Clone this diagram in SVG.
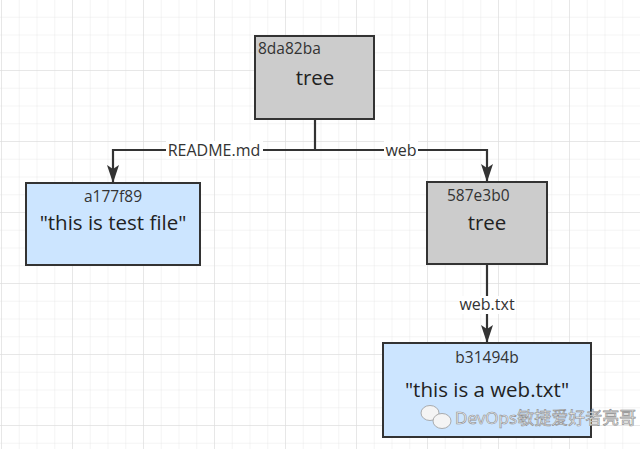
<svg xmlns="http://www.w3.org/2000/svg" width="640" height="449" viewBox="0 0 640 449">
<defs>
<pattern id="minor" x="1" y="-1" width="17.75" height="17.75" patternUnits="userSpaceOnUse">
<path d="M0 0H17.75M0 0V17.75" fill="none" stroke="#e9e9e9" stroke-width="1"/>
</pattern>
<pattern id="major" x="1" y="-1" width="71" height="71" patternUnits="userSpaceOnUse">
<path d="M0 0H71M0 0V71" fill="none" stroke="#dadada" stroke-width="1"/>
</pattern>
<marker id="arr" markerWidth="18" markerHeight="12" refX="17" refY="6" orient="auto" markerUnits="userSpaceOnUse" viewBox="0 0 18 12">
<path d="M0 0L4 6L0 12L18 6Z" fill="#333"/>
</marker>
<style>
.tree{fill:#cccccc;stroke:#333;stroke-width:2}
.blob{fill:#cce5ff;stroke:#333;stroke-width:2}
.id{font-family:"Open Sans","Noto Sans",sans-serif;font-size:15.5px;fill:#333}
.main{font-family:"Open Sans","Noto Sans",sans-serif;font-size:20.5px;fill:#222}
.lbl{font-family:"Open Sans","Noto Sans",sans-serif;font-size:16px;fill:#333;text-anchor:middle}
.edge{fill:none;stroke:#333;stroke-width:2.2}
.wm{font-family:"Noto Sans","Noto Sans CJK SC",sans-serif;font-size:17px;fill:#f2f2f2;stroke:#8c8c8c;stroke-width:0.6}
</style>
</defs>
<rect width="640" height="449" fill="#fff"/>
<rect width="640" height="449" fill="url(#minor)"/>
<rect width="640" height="449" fill="url(#major)"/>

<g id="connectors">
<path class="edge" d="M315 119V150H113V182" marker-end="url(#arr)"/>
<path class="edge" d="M315 150H487V181" marker-end="url(#arr)"/>
<path class="edge" d="M487 264V342" marker-end="url(#arr)"/>
<rect x="166" y="141" width="97" height="18" fill="#fff"/>
<text class="lbl" x="214" y="156">README.md</text>
<rect x="384" y="141" width="34" height="18" fill="#fff"/>
<text class="lbl" x="401" y="156">web</text>
<rect x="459" y="296" width="57" height="18" fill="#fff"/>
<text class="lbl" x="487" y="310">web.txt</text>
</g>

<g id="root">
<rect class="tree" x="255" y="36" width="119" height="83"/>
<text class="id" x="258" y="54">8da82ba</text>
<text class="main" x="315" y="85" text-anchor="middle">tree</text>
</g>

<g id="blob-a177f89">
<rect class="blob" x="26" y="183" width="174" height="82"/>
<text class="id" x="113" y="202" text-anchor="middle">a177f89</text>
<text class="main" x="113" y="230" text-anchor="middle">"this is test file"</text>
</g>

<g id="tree-587e3b0">
<rect class="tree" x="427" y="182" width="120" height="82"/>
<text class="id" x="447" y="201">587e3b0</text>
<text class="main" x="487" y="230" text-anchor="middle">tree</text>
</g>

<g id="blob-b31494b">
<rect class="blob" x="383" y="343" width="208" height="94"/>
<text class="id" x="487" y="363" text-anchor="middle">b31494b</text>
<text class="main" x="487" y="397" text-anchor="middle">"this is a web.txt"</text>
</g>

<g id="watermark">
<ellipse cx="430" cy="413" rx="9" ry="7.5" fill="#f4f4f4" stroke="#999" stroke-width="0.8"/>
<ellipse cx="442" cy="421" rx="9" ry="7.5" fill="#f4f4f4" stroke="#999" stroke-width="0.8"/>
<text class="wm" x="455" y="424">DevOps敏捷爱好者亮哥</text>
</g>
</svg>
